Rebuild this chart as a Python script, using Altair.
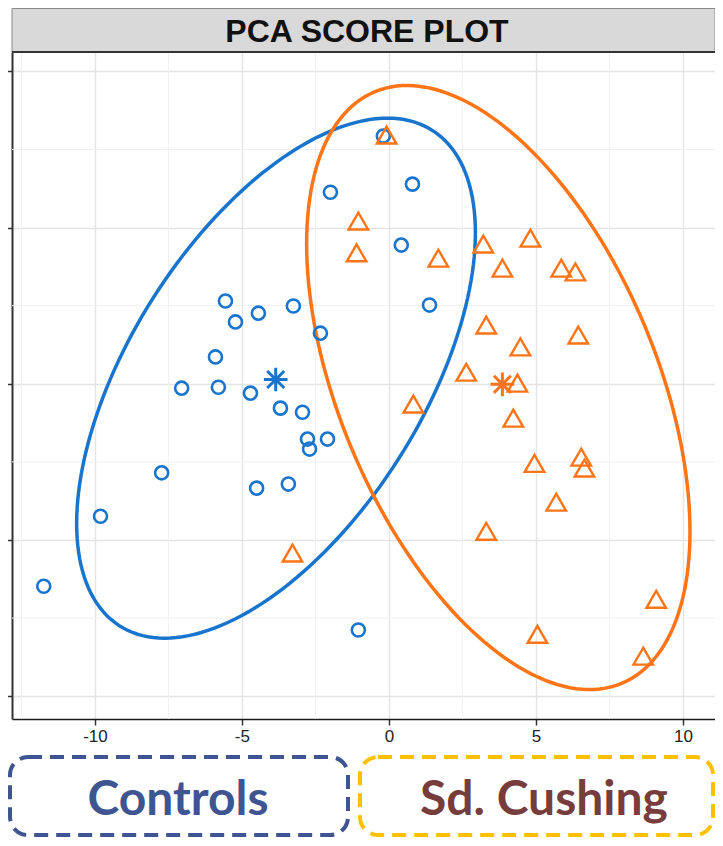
import altair as alt
import pandas as pd
import numpy as np

# ---- data ----
group_names = ["Controls", "Sd. Cushing"]
group_colors = ["#1874CD", "#FF7416"]

controls_x = [-0.19, -1.99, 0.80, 0.42, 1.38, -5.56, -4.44, -3.25, -5.22, -2.33,
              -5.90, -7.05, -5.80, -4.71, -3.69, -2.94, -2.77, -2.09, -2.70, -7.73,
              -4.50, -3.42, -9.81, -11.74, -1.04]
controls_y = [7.93, 6.13, 6.39, 4.44, 2.52, 2.65, 2.26, 2.49, 1.98, 1.62,
              0.86, -0.14, -0.11, -0.30, -0.78, -0.91, -1.77, -1.77, -2.09, -2.85,
              -3.34, -3.21, -4.24, -6.48, -7.88]
cushing_x = [-0.08, -1.04, -1.10, 1.68, 3.21, 4.81, 3.86, 5.86, 6.34, 3.31,
             6.44, 4.47, 2.63, 4.37, 0.83, 4.23, 4.95, 6.54, 6.65, 5.69,
             3.31, -3.28, 9.09, 5.05, 8.65]
cushing_y = [7.96, 5.21, 4.19, 4.02, 4.47, 4.66, 3.70, 3.70, 3.58, 1.88,
             1.56, 1.18, 0.37, 0.02, -0.65, -1.10, -2.55, -2.35, -2.70, -3.79,
             -4.72, -5.42, -6.90, -8.02, -8.72]

# ellipse parameters (centre and covariance-like spread)
ellipse_center_x = [-3.84, 3.72]
ellipse_center_y = [0.18, -0.12]
ellipse_sxx = [45.98, 42.5]
ellipse_syy = [69.27, 93.46]
ellipse_sxy = [31.55, -30.0]

x_ticks = [-10, -5, 0, 5, 10]
y_ticks = [-10, -5, 0, 5, 10]
x_minor = [-12.5, -7.5, -2.5, 2.5, 7.5]
y_minor = [-7.5, -2.5, 2.5, 7.5]
x_domain = [-12.82, 11.09]
y_domain = [-10.73, 10.62]

title_text = "PCA SCORE PLOT"
legend_labels = ["Controls", "Sd. Cushing"]
legend_text_colors = ["#3F5592", "#773D3D"]
legend_box_colors = ["#3F5592", "#FFC000"]

# ---- tables ----
pts = pd.DataFrame({
    "group": [group_names[0]] * len(controls_x) + [group_names[1]] * len(cushing_x),
    "x": controls_x + cushing_x,
    "y": controls_y + cushing_y,
})
ctrl = pts[pts.group == group_names[0]]
cush = pts[pts.group == group_names[1]]

t = np.linspace(0, 2 * np.pi, 181)
erows = []
for g, cx, cy, sxx, syy, sxy in zip(group_names, ellipse_center_x, ellipse_center_y,
                                    ellipse_sxx, ellipse_syy, ellipse_sxy):
    l11 = np.sqrt(sxx)
    l21 = sxy / l11
    l22 = np.sqrt(syy - l21 ** 2)
    ex = cx + l11 * np.cos(t)
    ey = cy + l21 * np.cos(t) + l22 * np.sin(t)
    for k, (a, b) in enumerate(zip(ex, ey)):
        erows.append({"group": g, "x": float(a), "y": float(b), "i": k})
ell = pd.DataFrame(erows)

W, H = 703, 667

x_enc = alt.X("x:Q", scale=alt.Scale(domain=x_domain, nice=False, zero=False),
              axis=alt.Axis(values=x_ticks, grid=True, gridColor="#E4E4E4", gridWidth=1.4,
                            domainColor="#1a1a1a", domainWidth=1.6, tickColor="#333333",
                            tickSize=6, tickWidth=1.5, labelFont="Liberation Sans",
                            labelFontSize=17, labelColor="#222222", labelPadding=3,
                            labelExpr="datum.value < 0 ? '-' + abs(datum.value) : '' + datum.value",
                            title=None))
y_enc = alt.Y("y:Q", scale=alt.Scale(domain=y_domain, nice=False, zero=False),
              axis=alt.Axis(values=y_ticks, labels=False, grid=True, gridColor="#E4E4E4",
                            gridWidth=1.4, domainColor="#333333", domainWidth=2,
                            tickColor="#333333", tickSize=7, tickWidth=1.5, title=None))
color_enc = alt.Color("group:N", scale=alt.Scale(domain=group_names, range=group_colors),
                      legend=None)

minor_x = alt.Chart(pd.DataFrame({"x": x_minor})).mark_rule(
    color="#F0F0F0", strokeWidth=1).encode(x=x_enc)
minor_y = alt.Chart(pd.DataFrame({"y": y_minor})).mark_rule(
    color="#F0F0F0", strokeWidth=1).encode(y=y_enc)

ellipses = alt.Chart(ell).mark_line(strokeWidth=3.5).encode(
    x=x_enc, y=y_enc, color=color_enc, order=alt.Order("i:Q"))

circles = alt.Chart(ctrl).mark_point(shape="circle", filled=False, size=170, opacity=1,
                                     strokeWidth=2.6).encode(x=x_enc, y=y_enc, color=color_enc)
triangles = alt.Chart(cush).mark_point(shape="triangle-up", filled=False, size=380, opacity=1,
                                       strokeWidth=2.4).encode(x=x_enc, y=y_enc, color=color_enc)

star_path = "M0,-1L0,1M-1,0L1,0M-0.72,-0.72L0.72,0.72M-0.72,0.72L0.72,-0.72"
centroids = alt.Chart(pts).transform_aggregate(
    x="mean(x)", y="mean(y)", groupby=["group"]
).mark_point(shape=star_path, filled=False, size=560, strokeWidth=3, opacity=1).encode(
    x=x_enc, y=y_enc, color=color_enc)

one = pd.DataFrame({"a": [0]})
strip = alt.Chart(one).mark_rect(fill="#D9D9D9", stroke="#8A8A8A", strokeWidth=1).encode(
    x=alt.value(0), x2=alt.value(W), y=alt.value(-43.5), y2=alt.value(0))
strip_line = alt.Chart(one).mark_rule(color="#333333", strokeWidth=2).encode(
    x=alt.value(0), x2=alt.value(W), y=alt.value(0))
title = alt.Chart(one).mark_text(text=title_text, font="Liberation Sans",
                                 fontSize=32, fontWeight="bold", color="#111111",
                                 baseline="middle", align="center").encode(
    x=alt.value(355), y=alt.value(-20))

boxes = []
box_x = [(-2, 336), (348, 701)]
text_x = [166, 532]
for lab, tc, bc, (bx0, bx1), tx in zip(legend_labels, legend_text_colors, legend_box_colors,
                                       box_x, text_x):
    boxes.append(alt.Chart(one).mark_rect(fillOpacity=0, stroke=bc, strokeWidth=4,
                                          strokeDash=[14, 8], cornerRadius=18).encode(
        x=alt.value(bx0), x2=alt.value(bx1), y=alt.value(705), y2=alt.value(783)))
    boxes.append(alt.Chart(one).mark_text(text=lab, font="Lato", fontSize=48,
                                          fontWeight="bold", color=tc, baseline="middle",
                                          align="center").encode(
        x=alt.value(tx), y=alt.value(749)))

chart = alt.layer(
    minor_x, minor_y, ellipses, circles, triangles, centroids,
    strip, strip_line, title, *boxes
).properties(
    width=W, height=H,
    autosize=alt.AutoSizeParams(type="none"),
    padding={"left": 4, "top": 44, "right": 0, "bottom": 119},
).configure_view(stroke=None)

chart.save("out.html", embed_options={"renderer": "svg", "actions": False})
